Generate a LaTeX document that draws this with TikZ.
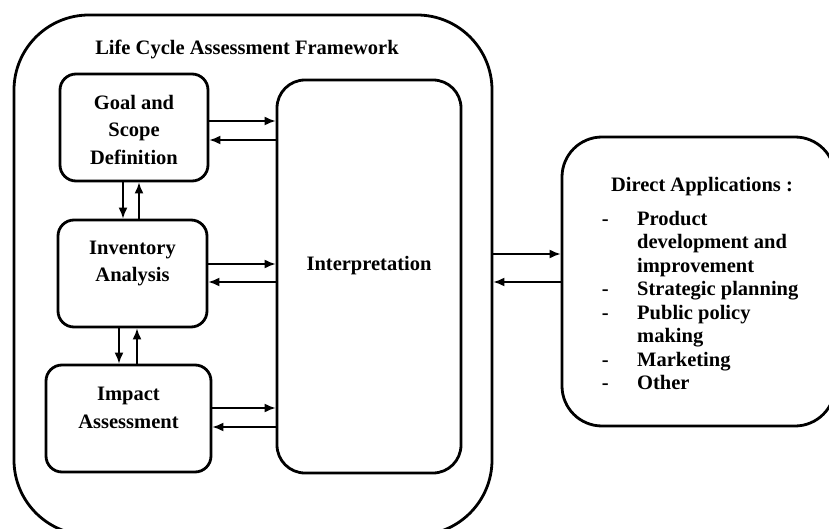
\documentclass[tikz,border=0pt]{standalone}
\usepackage{fontspec}
\setmainfont{Liberation Serif}
\usetikzlibrary{arrows.meta}
\begin{document}
\begin{tikzpicture}[x=1pt,y=-1pt,
  box/.style={draw,line width=2.8pt,inner sep=0pt},
  lbl/.style={font=\fontsize{20.5}{27.5}\selectfont\bfseries,align=center,inner sep=0pt},
  arr/.style={line width=1.8pt,-{Latex[length=11pt,width=9pt]}}]
\useasboundingbox (0,0) rectangle (829,529);
% outer frame
\node[box,rounded corners=75pt,minimum width=478pt,minimum height=520pt] (frame) at (253,275) {};
\node[lbl,anchor=base] (title) at (247,55) {Life Cycle Assessment Framework};
% boxes
\node[box,rounded corners=16pt,minimum width=148pt,minimum height=107pt] (goal) at (134,127.5) {};
\node[box,rounded corners=16pt,minimum width=149pt,minimum height=107pt] (inv) at (132.5,273.5) {};
\node[box,rounded corners=16pt,minimum width=165pt,minimum height=107pt] (imp) at (128.5,418.5) {};
\node[box,rounded corners=28pt,minimum width=184pt,minimum height=393pt] (interp) at (369,276.5) {};
\node[box,rounded corners=40pt,minimum width=273pt,minimum height=289pt] (direct) at (698.5,281.5) {};
% texts
\node[lbl] (goalT) at (134,129.5) {Goal and\\Scope\\Definition};
\node[lbl] (invT) at (132.5,263.5) {Inventory\\Analysis};
\node[lbl] (impT) at (128.5,408) {Impact\\Assessment};
\node[lbl] (interpT) at (369,266) {Interpretation};
\node[lbl,anchor=base] (directT) at (702,192) {Direct Applications :};
\node[anchor=north west,inner sep=0pt,font=\fontsize{20.5}{23.5}\selectfont\bfseries] (list) at (601.6,208.5)
 {\begin{tabular}{@{}p{35.4pt}@{}l@{}}
 - & Product\\
   & development and\\
   & improvement\\
 - & Strategic planning\\
 - & Public policy\\
   & making\\
 - & Marketing\\
 - & Other
 \end{tabular}};
% horizontal arrows
\draw[arr] (goal.east |- 0,121) -- (interp.west |- 0,121);
\draw[arr] (interp.west |- 0,140) -- (goal.east |- 0,140);
\draw[arr] (inv.east |- 0,264) -- (interp.west |- 0,264);
\draw[arr] (interp.west |- 0,282) -- (inv.east |- 0,282);
\draw[arr] (imp.east |- 0,408) -- (interp.west |- 0,408);
\draw[arr] (interp.west |- 0,427) -- (imp.east |- 0,427);
% vertical arrows
\draw[arr] (goal.south -| 123,0) -- (inv.north -| 123,0);
\draw[arr] (inv.north -| 139,0) -- (goal.south -| 139,0);
\draw[arr] (inv.south -| 119,0) -- (imp.north -| 119,0);
\draw[arr] (imp.north -| 137,0) -- (inv.south -| 137,0);
% frame <-> direct
\draw[arr] (frame.east |- 0,254) -- (direct.west |- 0,254);
\draw[arr] (direct.west |- 0,282) -- (frame.east |- 0,282);
\end{tikzpicture}
\end{document}
